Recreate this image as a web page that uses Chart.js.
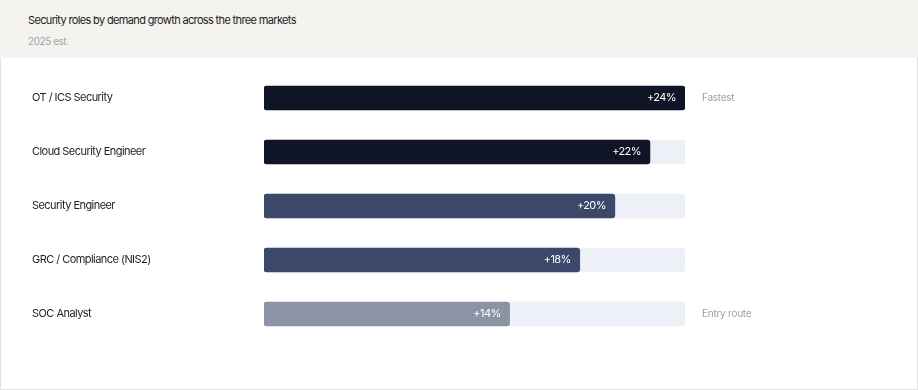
<!DOCTYPE html>
<html>
<head>
<meta charset="utf-8">
<script src="https://cdn.jsdelivr.net/npm/chart.js@4/dist/chart.umd.min.js"></script>
<style>
  html, body { margin: 0; padding: 0; background: #fff; }
  body { width: 918px; height: 390px; overflow: hidden; font-family: Inter, "Liberation Sans", sans-serif; }
  .card { position: absolute; left: 0; top: 0; width: 916px; height: 389px; border: 1px solid #e3e3e3; border-top: none; background: #fff; }
  .head { position: absolute; left: 0; top: 0; width: 918px; height: 58px; background: #f4f3ef; }
  .title { position: absolute; left: 28px; top: 13px; font-size: 11px; color: #1c1c1c; letter-spacing: -0.65px; white-space: nowrap; }
  .sub { position: absolute; left: 28px; top: 35px; font-size: 10px; color: #a3a3a8; letter-spacing: -0.45px; }
  .wrap { position: absolute; left: 1px; top: 58px; width: 916px; height: 331px; }
</style>
</head>
<body>
<div class="card"></div>
<div class="head">
  <div class="title">Security roles by demand growth across the three markets</div>
  <div class="sub">2025 est.</div>
</div>
<div class="wrap"><canvas id="c" width="916" height="331"></canvas></div>
<script>
const roles = ['OT / ICS Security', 'Cloud Security Engineer', 'Security Engineer', 'GRC / Compliance (NIS2)', 'SOC Analyst'];
const growth = [24, 22, 20, 18, 14];
const valueLabels = ['+24%', '+22%', '+20%', '+18%', '+14%'];
const notes = ['Fastest', '', '', '', 'Entry route'];
const barColors = ['#0f1426', '#0f1426', '#3c486a', '#3c486a', '#8a94a4'];
const trackMax = 24;
const track = roles.map(() => trackMax);

const FONT = 'Inter, "Liberation Sans", sans-serif';

const spacingPlugin = {
  id: 'spacing',
  beforeDraw(chart) { chart.ctx.letterSpacing = '-0.55px'; }
};

const labelPlugin = {
  id: 'labels',
  afterDatasetsDraw(chart) {
    const ctx = chart.ctx;
    const meta = chart.getDatasetMeta(0);
    const trackMeta = chart.getDatasetMeta(1);
    ctx.save();
    ctx.textBaseline = 'middle';
    meta.data.forEach((bar, i) => {
      ctx.letterSpacing = '-0.6px';
      ctx.font = '11px ' + FONT;
      ctx.fillStyle = '#ffffff';
      ctx.textAlign = 'right';
      ctx.fillText(valueLabels[i], bar.x - 9, bar.y);
      if (notes[i]) {
        ctx.letterSpacing = '-0.25px';
        ctx.font = '10px ' + FONT;
        ctx.fillStyle = '#9ea1a8';
        ctx.textAlign = 'left';
        ctx.fillText(notes[i], trackMeta.data[i].x + 17, bar.y);
      }
    });
    ctx.restore();
  }
};

new Chart(document.getElementById('c'), {
  type: 'bar',
  data: {
    labels: roles,
    datasets: [
      { data: growth, backgroundColor: barColors, borderRadius: 3, borderSkipped: false, barThickness: 24, grouped: false },
      { data: track, backgroundColor: '#edf0f6', borderRadius: 3, borderSkipped: false, barThickness: 24, grouped: false }
    ]
  },
  options: {
    indexAxis: 'y',
    responsive: false,
    animation: false,
    devicePixelRatio: 1,
    layout: { padding: { left: 31, right: 232, top: 13, bottom: 48 } },
    plugins: { legend: { display: false }, tooltip: { enabled: false } },
    scales: {
      x: { min: 0, max: trackMax, display: false },
      y: {
        grid: { display: false },
        border: { display: false },
        ticks: { crossAlign: 'far', color: '#1f1f1f', font: { size: 11, family: FONT }, padding: 0 },
        afterFit(scale) { scale.width = 232; }
      }
    }
  },
  plugins: [spacingPlugin, labelPlugin]
});
</script>
</body>
</html>
